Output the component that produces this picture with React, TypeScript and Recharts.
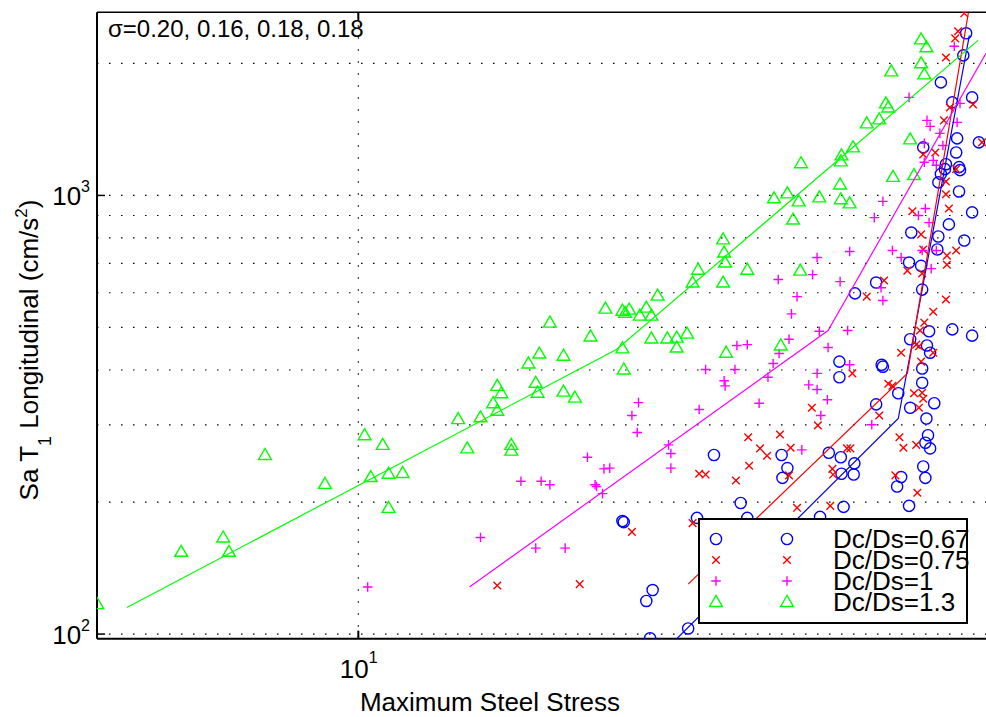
import React from 'react'
import { ScatterChart, Scatter, XAxis, YAxis, ReferenceLine, Legend } from 'recharts'

const W = 986
const H = 717
const FONT = '"Liberation Sans", Arial, Helvetica, sans-serif'

const X_DOMAIN: [number, number] = [4.386, 72.4]
const Y_DOMAIN: [number, number] = [97.6, 2615]
const xTicks = [10]
const yTicks = [100, 1000]
const yGrid = [100, 200, 300, 400, 500, 600, 700, 800, 900, 1000, 2000]
const xGrid = [10]
const sigmaText = 'σ=0.20, 0.16, 0.18, 0.18'
const legendLabels = ['Dc/Ds=0.67', 'Dc/Ds=0.75', 'Dc/Ds=1', 'Dc/Ds=1.3']

// Dc/Ds = 0.67 (blue circles)
const circles067 = [
  [23.0, 181], [23.1, 180], [24.8, 119], [25.3, 126], [25.1, 97.8], [28.3, 103], [29.1, 184], [30.7, 256],
  [33.4, 199], [34.1, 184], [38.0, 256], [38.7, 239], [38.1, 227], [42.9, 185], [44.1, 259], [45.6, 418],
  [45.6, 385], [45.8, 253], [45.9, 232], [46.2, 195], [47.8, 245], [47.7, 231], [51.2, 334], [52.1, 411],
  [52.3, 407], [54.9, 354], [55.4, 228], [54.7, 217], [56.8, 196], [57.0, 328], [57.0, 470], [59.2, 403],
  [59.2, 374], [59.4, 241], [59.8, 227], [60.0, 310], [60.3, 284], [60.7, 265], [61.5, 336], [59.8, 273],
  [60.1, 455], [60.7, 438], [60.5, 490], [65.1, 495], [69.3, 479], [51.2, 633], [47.9, 598], [56.8, 703],
  [59.0, 691], [59.2, 610], [57.2, 823], [62.1, 753], [62.3, 806], [64.4, 859], [67.6, 789], [69.3, 915],
  [66.5, 1021], [66.7, 1142], [63.6, 1148], [62.8, 1119], [62.3, 1071], [63.8, 1178], [66.5, 1160],
  [65.9, 1253], [59.4, 1287], [66.1, 1349], [70.8, 1321], [65.1, 1630], [69.3, 1673], [62.8, 1810],
  [67.4, 2086], [68.0, 2342],
]

// Dc/Ds = 0.75 (red crosses)
const crosses075 = [
  [15.5, 129], [20.1, 130], [23.7, 171], [28.7, 179], [29.3, 232], [29.9, 231], [32.9, 224], [34.2, 281],
  [34.3, 242], [35.5, 265], [36.3, 255], [37.8, 285], [38.9, 230], [39.1, 266], [39.9, 194], [41.8, 328],
  [42.6, 299], [44.3, 196], [44.6, 238], [44.7, 231], [46.7, 265], [47.2, 265], [47.5, 393], [51.7, 315],
  [53.2, 372], [53.9, 368], [54.4, 230], [55.1, 281], [55.4, 438], [55.8, 266], [58.1, 270], [58.3, 210],
  [57.7, 354], [59.2, 355], [59.4, 344], [58.6, 328], [59.0, 418], [58.1, 457], [58.6, 453], [61.3, 438],
  [59.6, 513], [58.8, 492], [61.3, 543], [63.8, 579], [49.7, 588], [52.5, 640], [56.5, 674], [59.2, 664],
  [64.0, 695], [64.0, 729], [65.9, 749], [59.0, 815], [59.4, 753], [57.4, 920], [64.4, 934], [63.8, 1006],
  [63.8, 1076], [65.9, 1148], [59.4, 1240], [61.7, 1253], [63.4, 1483], [64.6, 1587], [69.5, 1613],
  [71.5, 1321], [63.8, 2063], [66.3, 2367], [65.7, 2281], [67.6, 2601],
]

// Dc/Ds = 1 (magenta plus)
const plus100 = [
  [10.3, 128], [14.7, 166], [16.7, 223], [17.8, 223], [18.3, 219], [17.5, 157], [19.2, 157], [20.6, 253],
  [21.1, 219], [21.2, 217], [21.6, 209], [21.7, 238], [22.1, 239], [23.7, 315], [24.1, 288], [24.2, 337],
  [26.6, 270], [26.8, 258], [26.8, 239], [29.3, 325], [29.9, 401], [31.7, 378], [31.8, 368], [32.8, 401],
  [33.0, 455], [34.1, 457], [35.4, 336], [36.4, 385], [37.0, 414], [37.7, 436], [37.6, 643], [38.9, 470],
  [39.2, 537], [39.9, 588], [40.5, 263], [41.4, 370], [42.5, 393], [42.5, 361], [43.9, 342], [43.0, 315],
  [44.0, 450], [47.1, 411], [50.5, 300], [41.9, 660], [42.5, 722], [42.8, 490], [45.7, 636], [46.8, 492],
  [47.1, 745], [50.9, 890], [52.3, 969], [52.3, 576], [52.0, 616], [53.9, 749], [55.4, 722], [56.8, 1673],
  [58.5, 900], [59.2, 749], [59.8, 934], [60.5, 867], [60.9, 681], [61.9, 749], [59.6, 1314], [59.6, 1190],
  [60.1, 1483], [60.7, 1437], [61.3, 1202], [61.9, 1172], [62.6, 1385], [63.2, 1300], [65.5, 2188],
  [66.1, 1467], [66.7, 1621],
]

// Dc/Ds = 1.3 (green triangles)
const tri130 = [
  [4.39, 117], [5.72, 154], [6.53, 166], [6.65, 154], [7.45, 256], [9.0, 220], [10.2, 284], [10.4, 228],
  [10.8, 270], [11.0, 232], [11.0, 194], [11.5, 233], [13.7, 309], [14.1, 265], [14.7, 312], [15.3, 336],
  [15.5, 323], [15.5, 368], [15.7, 354], [16.2, 270], [16.2, 262], [17.1, 414], [17.7, 436], [17.5, 374],
  [17.6, 355], [18.3, 513], [19.1, 431], [19.1, 357], [19.8, 346], [20.8, 477], [21.8, 552], [23.0, 546],
  [23.2, 540], [23.5, 549], [24.3, 532], [24.8, 555], [25.2, 532], [25.7, 591], [23.0, 448], [23.1, 401],
  [25.2, 472], [26.5, 472], [27.3, 474], [27.3, 450], [28.2, 484], [28.7, 633], [29.2, 677], [31.6, 633],
  [31.6, 794], [31.7, 741], [31.8, 703], [31.9, 438], [34.1, 677], [37.1, 985], [37.9, 455], [38.7, 1011],
  [39.4, 881], [40.1, 969], [40.3, 674], [40.4, 1184], [42.8, 990], [45.7, 1059], [45.8, 980], [47.1, 959],
  [45.8, 1196], [45.9, 1234], [47.6, 1287], [49.7, 1460], [51.7, 1491], [52.8, 1621], [53.2, 1587],
  [53.7, 1918], [54.0, 1102], [57.0, 1342], [57.7, 1113], [59.0, 2269], [60.0, 2176], [59.0, 2001],
  [59.6, 1888],
]

// bilinear fits in log-log space
const fit067 = [[27.3, 97.6], [54.9, 310], [68.7, 2317]]
const fit075 = [[28.3, 130], [56.5, 393], [68.5, 2615]]
const fit100 = [[14.2, 128], [44.0, 492], [72.4, 2109]]
const fit130 = [[4.82, 115], [22.6, 446], [70.6, 2257]]

const pts = (a: number[][]) => a.map(([x, y]) => ({ x, y }))

type P = { cx?: number; cy?: number }

function CircleMark({ cx = 0, cy = 0 }: P) {
  return <circle cx={cx} cy={cy} r={5.6} fill="none" stroke="#0000ff" strokeWidth={1.4} />
}
function CrossMark({ cx = 0, cy = 0 }: P) {
  const s = 3.8
  return (
    <path
      d={`M${cx - s},${cy - s}L${cx + s},${cy + s}M${cx - s},${cy + s}L${cx + s},${cy - s}`}
      stroke="#ff0000"
      strokeWidth={1.4}
      fill="none"
    />
  )
}
function PlusMark({ cx = 0, cy = 0 }: P) {
  const s = 4.8
  return (
    <path
      d={`M${cx - s},${cy}L${cx + s},${cy}M${cx},${cy - s}L${cx},${cy + s}`}
      stroke="#ff00ff"
      strokeWidth={1.4}
      fill="none"
    />
  )
}
function TriMark({ cx = 0, cy = 0 }: P) {
  return (
    <polygon
      points={`${cx},${cy - 6.5} ${cx - 6.4},${cy + 4.5} ${cx + 6.4},${cy + 4.5}`}
      fill="none"
      stroke="#00ff00"
      strokeWidth={1.4}
    />
  )
}
const NoMark = () => <g />

const markers = [CircleMark, CrossMark, PlusMark, TriMark]

function LegendBox() {
  return (
    <svg width={270} height={106} style={{ display: 'block', overflow: 'visible' }}>
      <rect x={1} y={1} width={268} height={104} fill="#fff" stroke="#000" strokeWidth={2} />
      {legendLabels.map((label, i) => {
        const Mark = markers[i]
        const cy = 21 + i * 21
        return (
          <g key={label}>
            <Mark cx={18} cy={cy} />
            <Mark cx={89} cy={cy} />
            <text x={135} y={cy + 9} fontSize={26} fontFamily={FONT} fill="#000">
              {label}
            </text>
          </g>
        )
      })}
    </svg>
  )
}

function XTick(p: any) {
  return (
    <text x={p.x - 18.5} y={678} fontSize={26} fontFamily={FONT} fill="#000">
      10
      <tspan dy={-15} fontSize={16}>
        {Math.round(Math.log10(p.payload.value))}
      </tspan>
    </text>
  )
}

function YTick(p: any) {
  return (
    <text x={90} y={p.y + 10} textAnchor="end" fontSize={26} fontFamily={FONT} fill="#000">
      10
      <tspan dy={-13} fontSize={16}>
        {Math.round(Math.log10(p.payload.value))}
      </tspan>
    </text>
  )
}

const XLabel = () => (
  <text x={490} y={711} textAnchor="middle" fontSize={26} fontFamily={FONT} fill="#000">
    Maximum Steel Stress
  </text>
)

const YLabel = () => (
  <text
    x={38}
    y={350}
    transform="rotate(-90, 38, 350)"
    textAnchor="middle"
    fontSize={26}
    fontFamily={FONT}
    fill="#000"
  >
    Sa T
    <tspan dy={13} fontSize={18}>1</tspan>
    <tspan dy={-13}> Longitudinal (cm/s</tspan>
    <tspan dy={-11} fontSize={17}>2</tspan>
    <tspan dy={11}>)</tspan>
  </text>
)

const SigmaLabel = () => (
  <text x={108} y={37} fontSize={24} fontFamily={FONT} fill="#000">
    {sigmaText}
  </text>
)

const TICK_X = Math.pow(10, 8 / 730)
const TICK_Y = Math.pow(10, 8 / 438.6)

const series = [
  { name: legendLabels[0], data: circles067, fit: fit067, color: '#0000ff', shape: CircleMark },
  { name: legendLabels[1], data: crosses075, fit: fit075, color: '#ff0000', shape: CrossMark },
  { name: legendLabels[2], data: plus100, fit: fit100, color: '#ff00ff', shape: PlusMark },
  { name: legendLabels[3], data: tri130, fit: fit130, color: '#00ff00', shape: TriMark },
]

export default function App() {
  return (
    <div style={{ position: 'absolute', left: 0, top: 0, width: W, height: H, background: '#fff' }}>
      <ScatterChart width={W} height={H} margin={{ top: 12.3, right: 0, bottom: 38.3, left: 37 }}>
        <XAxis
          type="number"
          dataKey="x"
          scale="log"
          domain={X_DOMAIN}
          allowDataOverflow
          ticks={xTicks}
          interval={0}
          tick={(p: any) => <XTick {...p} />}
          tickLine={false}
          axisLine={{ stroke: '#000', strokeWidth: 2 }}
          height={40}
          label={{ content: XLabel }}
        />
        <YAxis
          type="number"
          dataKey="y"
          scale="log"
          domain={Y_DOMAIN}
          allowDataOverflow
          ticks={yTicks}
          interval={0}
          tick={(p: any) => <YTick {...p} />}
          tickLine={false}
          axisLine={{ stroke: '#000', strokeWidth: 2 }}
          width={60}
          label={{ content: YLabel }}
        />
        {yGrid.map((v) => (
          <ReferenceLine key={'gy' + v} y={v} stroke="#000" strokeWidth={1.2} strokeDasharray="1.5 10.5" />
        ))}
        {xGrid.map((v) => (
          <ReferenceLine key={'gx' + v} x={v} stroke="#000" strokeWidth={1.2} strokeDasharray="1.5 10.5" />
        ))}
        {xTicks.map((v) => (
          <ReferenceLine
            key={'tb' + v}
            segment={[{ x: v, y: Y_DOMAIN[0] }, { x: v, y: Y_DOMAIN[0] * TICK_Y }]}
            stroke="#000"
            strokeWidth={2}
          />
        ))}
        {xTicks.map((v) => (
          <ReferenceLine
            key={'tt' + v}
            segment={[{ x: v, y: Y_DOMAIN[1] }, { x: v, y: Y_DOMAIN[1] / TICK_Y }]}
            stroke="#000"
            strokeWidth={2}
          />
        ))}
        {yTicks.map((v) => (
          <ReferenceLine
            key={'tl' + v}
            segment={[{ x: X_DOMAIN[0], y: v }, { x: X_DOMAIN[0] * TICK_X, y: v }]}
            stroke="#000"
            strokeWidth={1.5}
          />
        ))}
        <ReferenceLine
          y={Y_DOMAIN[1]}
          stroke="#000"
          strokeWidth={1.4}
          ifOverflow="visible"
          label={{ content: SigmaLabel }}
        />
        {series.map((s) => (
          <Scatter
            key={s.name}
            name={s.name}
            data={pts(s.data)}
            shape={(p: any) => <s.shape cx={p.cx} cy={p.cy} />}
            isAnimationActive={false}
          />
        ))}
        {series.map((s) => (
          <Scatter
            key={s.name + '-fit'}
            data={pts(s.fit)}
            line={{ stroke: s.color, strokeWidth: 1.2 }}
            shape={NoMark}
            legendType="none"
            isAnimationActive={false}
          />
        ))}
        <Legend
          layout="vertical"
          align="center"
          verticalAlign="middle"
          wrapperStyle={{ position: 'absolute', left: 698, top: 518, width: 270, height: 106 }}
          content={LegendBox}
        />
      </ScatterChart>
    </div>
  )
}
